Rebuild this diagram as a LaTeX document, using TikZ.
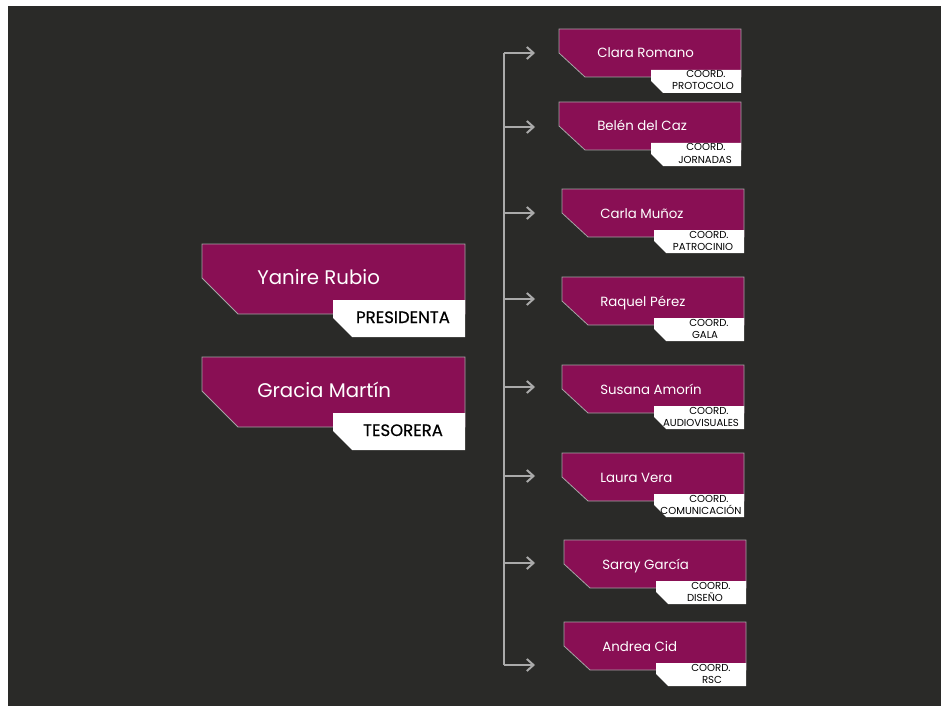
\documentclass[tikz,border=0pt]{standalone}
\usepackage{fontspec}
\setmainfont{Poppins}
\newfontfamily\rolefont{Poppins}[FakeBold=0.5]
\usetikzlibrary{arrows.meta}
\definecolor{bgdark}{RGB}{42,42,40}
\definecolor{mag}{RGB}{137,15,84}
\definecolor{edgegray}{RGB}{165,165,165}
\definecolor{conngray}{RGB}{170,170,170}
\tikzset{
  magbox/.style={fill=mag, draw=edgegray, line width=0.6pt},
  whitebox/.style={fill=white},
  bigname/.style={text=white, inner sep=0pt, anchor=base west, font=\fontsize{14.8}{17}\selectfont},
  bigrole/.style={text=black, inner sep=0pt, anchor=base, font=\rolefont\fontsize{12.4}{14}\selectfont},
  smallname/.style={text=white, inner sep=0pt, anchor=base west, font=\fontsize{10}{12}\selectfont},
  smallrole/.style={text=black, inner sep=0pt, anchor=base, font=\fontsize{7.6}{9}\selectfont},
  trunk/.style={draw=conngray, line width=1.5pt},
  arr/.style={draw=conngray, line width=1.5pt, -{Straight Barb[length=5pt,width=9pt,line width=1.5pt]}}
}
% big box: #1 id, #2 L, #3 T, #4 person, #5 role
\newcommand\drawbigbox[5]{%
  \path[magbox] (#2,#3) -- ++(263,0) -- ++(0,70) -- ++(-227,0) -- ++(-36,-36) -- cycle;
  \path[whitebox] ({#2+131},{#3+56}) -- ++(132,0) -- ++(0,37) -- ++(-113,0) -- ++(-19,-19) -- cycle;
  \node[bigname] (#1) at ({#2+55},{#3+40}) {#4};
  \node[bigrole] (#1role) at ({#2+201},{#3+79}) {#5};
}
% small box: #1 id, #2 L, #3 T, #4 person, #5 role line 2, #6 x offset of line 2
\newcommand\drawsmallbox[6]{%
  \path[magbox] (#2,#3) -- ++(182,0) -- ++(0,48) -- ++(-156,0) -- ++(-26,-24) -- cycle;
  \path[whitebox] ({#2+92},{#3+41}) -- ++(90,0) -- ++(0,23) -- ++(-78,0) -- ++(-12,-12) -- cycle;
  \node[smallname] (#1) at ({#2+38},{#3+29}) {#4};
  \node[smallrole] (#1ra) at ({#2+147},{#3+49}) {COORD.};
  \node[smallrole] (#1rb) at ({#2+#6},{#3+61}) {#5};
}
\begin{document}
\begin{tikzpicture}[x=0.75pt,y=-0.75pt]
  \useasboundingbox (0,0) rectangle (941,706);
  \fill[white] (0,0) rectangle (941,706);
  \fill[bgdark] (8,6) rectangle (941,706);

  \drawbigbox{yanire}{202}{244}{Yanire Rubio}{PRESIDENTA}
  \drawbigbox{gracia}{202}{357}{Gracia Martín}{TESORERA}

  \drawsmallbox{clara}{559}{29}{Clara Romano}{PROTOCOLO}{144}
  \drawsmallbox{belen}{559}{102}{Belén del Caz}{JORNADAS}{146}
  \drawsmallbox{carla}{562}{189}{Carla Muñoz}{PATROCINIO}{141}
  \drawsmallbox{raquel}{562}{277}{Raquel Pérez}{GALA}{143}
  \drawsmallbox{susana}{562}{365}{Susana Amorín}{AUDIOVISUALES}{139}
  \drawsmallbox{laura}{562}{453}{Laura Vera}{COMUNICACIÓN}{139}
  \drawsmallbox{saray}{564}{540}{Saray García}{DISEÑO}{141}
  \drawsmallbox{andrea}{564}{622}{Andrea Cid}{RSC}{148}

  % connectors
  \coordinate (t1) at (504,53);  \coordinate (a1) at (535,53);
  \coordinate (t2) at (504,127); \coordinate (a2) at (535,127);
  \coordinate (t3) at (504,213); \coordinate (a3) at (535,213);
  \coordinate (t4) at (504,299); \coordinate (a4) at (535,299);
  \coordinate (t5) at (504,387); \coordinate (a5) at (535,387);
  \coordinate (t6) at (504,476); \coordinate (a6) at (535,476);
  \coordinate (t7) at (504,563); \coordinate (a7) at (535,563);
  \coordinate (t8) at (504,665); \coordinate (a8) at (535,665);
  \draw[trunk] (t1) -- (t8);
  \foreach \i in {1,...,8} { \draw[arr] (t\i) -- (a\i); }
\end{tikzpicture}
\end{document}
